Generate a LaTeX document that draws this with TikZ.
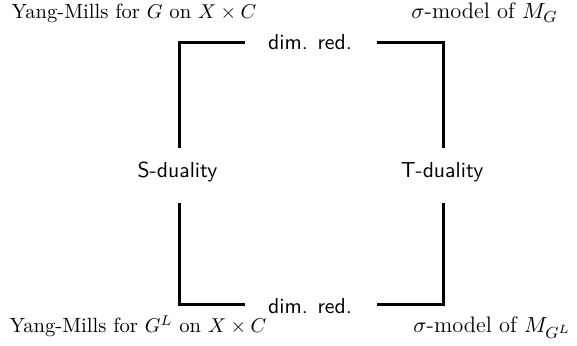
\documentclass[tikz,border=0pt]{standalone}
\begin{document}
\begin{tikzpicture}[x=0.5pt,y=-0.5pt]
\tikzset{
  bar/.style={line width=1.5pt},
  txt/.style={inner sep=0pt, anchor=base, font=\fontsize{10.3}{12}\selectfont},
  sig/.style={inner sep=0pt, anchor=base west, font=\fontsize{11.2}{13}\selectfont},
  sans/.style={inner sep=0pt, anchor=base, font=\fontsize{10.85}{13}\selectfont\sffamily}
}
\useasboundingbox (0,0) rectangle (577,346);
% corner labels
\node[txt] (ymG) at (134,19) {Yang-Mills for $G$ on $X\times C$};
\node[sig] (sigG) at (411,19) {$\sigma$-model of $M_G$};
\node[txt] (ymGL) at (138,333) {Yang-Mills for $G^L$ on $X\times C$};
\node[sig] (sigGL) at (413,333) {$\sigma$-model of $M_{G^L}$};
% edge labels
\node[sans] (dtop) at (310,50) {dim. red.};
\node[sans] (dbot) at (310,314) {dim. red.};
\node[sans] (sdual) at (177.5,178) {S-duality};
\node[sans] (tdual) at (442,178) {T-duality};
% free ends
\coordinate (tl) at (245,43);
\coordinate (tr) at (377,43);
\coordinate (bl) at (245,305);
\coordinate (br) at (377,305);
\coordinate (lu) at (179,148);
\coordinate (ll) at (179,203);
\coordinate (ru) at (443,148);
\coordinate (rl) at (443,203);
\draw[bar] (tl) -| (lu);
\draw[bar] (tr) -| (ru);
\draw[bar] (bl) -| (ll);
\draw[bar] (br) -| (rl);
\end{tikzpicture}
\end{document}
